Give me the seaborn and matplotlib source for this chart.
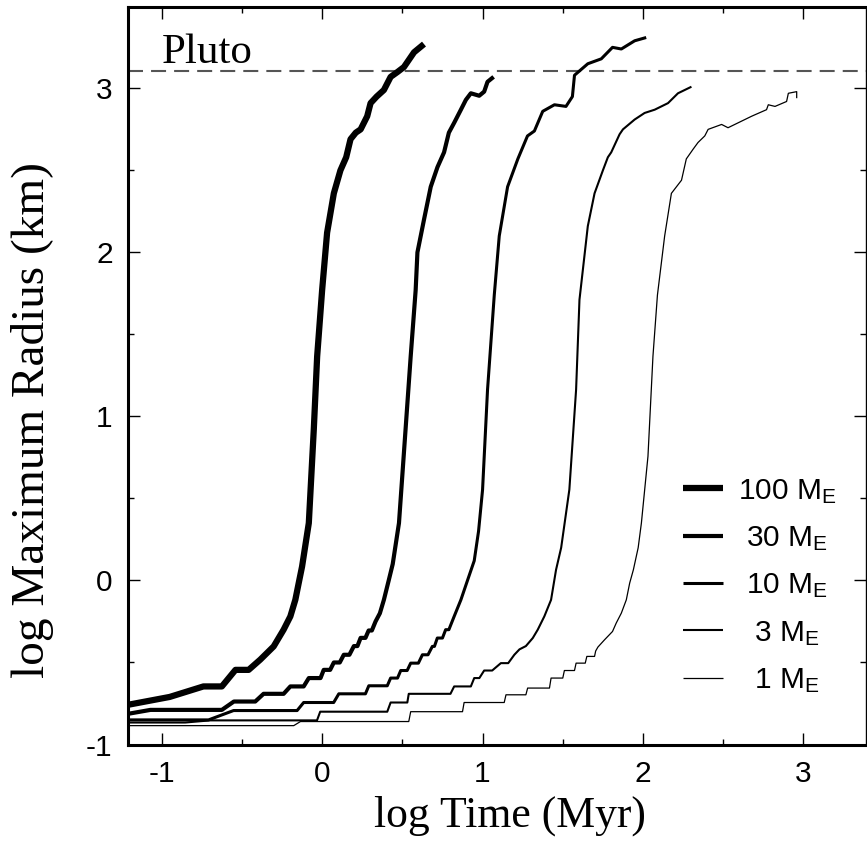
import matplotlib
matplotlib.use("Agg")
import matplotlib.pyplot as plt
import numpy as np
import pandas as pd
import seaborn as sns
from matplotlib.ticker import MultipleLocator

# ---------------- data ----------------
masses = [100, 30, 10, 3, 1]

t100 = [-1.21, -0.95, -0.74, -0.625, -0.54, -0.458, -0.386, -0.302, -0.24, -0.198,
        -0.167, -0.146, -0.125, -0.083, -0.052, -0.031, 0.0, 0.031, 0.073, 0.114,
        0.15, 0.177, 0.21, 0.24, 0.281, 0.302, 0.34, 0.385, 0.427, 0.47, 0.51, 0.573, 0.635]
r100 = [-0.758, -0.71, -0.646, -0.646, -0.545, -0.545, -0.483, -0.402, -0.30, -0.219,
        -0.118, -0.016, 0.085, 0.35, 0.92, 1.366, 1.77, 2.12, 2.36, 2.50,
        2.58, 2.69, 2.73, 2.75, 2.83, 2.91, 2.95, 2.99, 3.07, 3.10, 3.13, 3.22, 3.27]

t30 = [-1.21, -1.07, -0.625, -0.55, -0.417, -0.365, -0.24, -0.198, -0.115, -0.083,
       -0.01, 0.01, 0.05, 0.073, 0.11, 0.135, 0.17, 0.198, 0.22, 0.24,
       0.27, 0.29, 0.31, 0.333, 0.36, 0.385, 0.415, 0.44, 0.479, 0.52,
       0.552, 0.583, 0.594, 0.635, 0.677, 0.719, 0.76, 0.79, 0.823, 0.865,
       0.896, 0.927, 0.979, 1.01, 1.031, 1.069]
r30 = [-0.813, -0.789, -0.789, -0.738, -0.738, -0.691, -0.691, -0.646, -0.646, -0.595,
       -0.595, -0.545, -0.545, -0.50, -0.50, -0.453, -0.453, -0.40, -0.40, -0.35,
       -0.35, -0.305, -0.305, -0.25, -0.20, -0.118, 0.0, 0.1, 0.35, 0.92,
       1.366, 1.77, 2.0, 2.2, 2.40, 2.52, 2.61, 2.73, 2.79, 2.87,
       2.93, 2.97, 2.955, 2.98, 3.04, 3.07]

t10 = [-1.21, -0.708, -0.552, -0.156, -0.115, 0.072, 0.104, 0.27, 0.291, 0.406,
       0.427, 0.47, 0.49, 0.53, 0.552, 0.60, 0.625, 0.66, 0.687, 0.70,
       0.718, 0.75, 0.77, 0.79, 0.823, 0.865, 0.906, 0.948, 0.975, 1.0,
       1.031, 1.073, 1.104, 1.156, 1.22, 1.28, 1.323, 1.375, 1.448, 1.52,
       1.56, 1.573, 1.656, 1.74, 1.81, 1.865, 1.948, 2.02]
r10 = [-0.85, -0.85, -0.793, -0.793, -0.744, -0.744, -0.691, -0.691, -0.642, -0.642,
       -0.595, -0.595, -0.549, -0.549, -0.504, -0.504, -0.453, -0.453, -0.402, -0.402,
       -0.351, -0.351, -0.30, -0.30, -0.219, -0.118, 0.0, 0.12, 0.3, 0.553,
       1.163, 1.74, 2.10, 2.40, 2.57, 2.71, 2.74, 2.86, 2.90, 2.89,
       2.95, 3.08, 3.15, 3.18, 3.25, 3.24, 3.29, 3.31]

t3 = [-1.21, -0.854, -0.698, -0.032, -0.012, 0.406, 0.427, 0.531, 0.54, 0.80,
      0.823, 0.927, 0.948, 0.98, 1.01, 1.06, 1.114, 1.16, 1.198, 1.23,
      1.27, 1.313, 1.344, 1.385, 1.427, 1.458, 1.49, 1.541, 1.583, 1.604,
      1.656, 1.698, 1.75, 1.781, 1.802, 1.854, 1.875, 1.948, 2.01, 2.073,
      2.156, 2.218, 2.302]
r3 = [-0.866, -0.866, -0.853, -0.853, -0.80, -0.80, -0.744, -0.744, -0.691, -0.691,
      -0.646, -0.646, -0.595, -0.595, -0.549, -0.549, -0.504, -0.504, -0.453, -0.42,
      -0.40, -0.351, -0.30, -0.219, -0.118, 0.065, 0.2, 0.554, 1.163, 1.711,
      2.16, 2.36, 2.50, 2.58, 2.61, 2.72, 2.75, 2.81, 2.85, 2.87,
      2.91, 2.97, 3.01]

t1 = [-1.21, -0.177, -0.135, 0.54, 0.552, 0.875, 0.885, 1.135, 1.146, 1.27,
      1.281, 1.417, 1.427, 1.50, 1.51, 1.573, 1.583, 1.64, 1.65, 1.698,
      1.705, 1.719, 1.76, 1.81, 1.833, 1.865, 1.896, 1.917, 1.94, 1.97,
      1.99, 2.031, 2.062, 2.09, 2.135, 2.177, 2.24, 2.27, 2.313, 2.343,
      2.385, 2.406, 2.49, 2.53, 2.677, 2.70, 2.77, 2.781, 2.823, 2.895,
      2.906, 2.958, 2.958]
r1 = [-0.885, -0.885, -0.86, -0.86, -0.80, -0.80, -0.744, -0.744, -0.697, -0.697,
      -0.656, -0.656, -0.595, -0.595, -0.549, -0.549, -0.504, -0.504, -0.463, -0.463,
      -0.43, -0.406, -0.362, -0.311, -0.26, -0.199, -0.118, -0.016, 0.065, 0.2,
      0.35, 0.757, 1.366, 1.74, 2.10, 2.36, 2.44, 2.57, 2.63, 2.67,
      2.71, 2.75, 2.78, 2.76, 2.83, 2.84, 2.87, 2.90, 2.89, 2.92,
      2.97, 2.98, 2.94]

pluto_logr = 3.105
x_ticks = [-1, 0, 1, 2, 3]
y_ticks = [-1, 0, 1, 2, 3]

# ---------------- style ----------------
sns.set_theme(style="ticks")
plt.rcParams["font.family"] = ["Liberation Sans", "DejaVu Sans"]
plt.rcParams["mathtext.fontset"] = "custom"
plt.rcParams["mathtext.rm"] = "Liberation Sans"
plt.rcParams["mathtext.it"] = "Liberation Sans:italic"
plt.rcParams["lines.scale_dashes"] = False
plt.rcParams["axes.unicode_minus"] = False
for key in ["text.color", "axes.labelcolor", "xtick.color", "ytick.color",
            "xtick.labelcolor", "ytick.labelcolor", "axes.edgecolor"]:
    plt.rcParams[key] = "black"

fig = plt.figure(figsize=(8.67, 8.56), dpi=100)
L, R, T, B = 128, 866, 7, 744.5
ax = fig.add_axes([L / 867, (856 - B) / 856, (R - L) / 867, (B - T) / 856])

series = {100: (t100, r100), 30: (t30, r30), 10: (t10, r10), 3: (t3, r3), 1: (t1, r1)}
widths = {100: 4.5, 30: 3.0, 10: 2.2, 3: 1.5, 1: 0.9}

for m in masses:
    t, r = series[m]
    df = pd.DataFrame({"t": t, "r": r})
    sns.lineplot(data=df, x="t", y="r", ax=ax, color="black", linewidth=widths[m],
                 sort=False, estimator=None, label=f"{m:>3d}" + r" M$_\mathrm{E}$",
                 solid_joinstyle="round", solid_capstyle="butt")

ax.axhline(pluto_logr, color="#555555", lw=1.5, dashes=(10.8, 5.8), zorder=1)
ax.text(-1.0, 3.155, "Pluto", family="Liberation Serif", fontsize=31,
        ha="left", va="baseline", color="black")

ax.set_xlim(-1.21, 3.39)
ax.set_ylim(-1.0, 3.496)
ax.set_xticks(x_ticks)
ax.set_yticks(y_ticks)
ax.xaxis.set_minor_locator(MultipleLocator(0.5))
ax.yaxis.set_minor_locator(MultipleLocator(0.5))
ax.tick_params(which="both", direction="in", top=True, right=True, color="black",
               labelcolor="black")
ax.tick_params(which="major", length=8.6, width=1.0, labelsize=21.5, pad=11)
ax.tick_params(which="minor", length=4.3, width=1.0)
for s in ax.spines.values():
    s.set_linewidth(2.2)
    s.set_color("black")
ax.spines["right"].set_linewidth(1.0)

ax.set_xlabel("log Time (Myr)", family="Liberation Serif", fontsize=31.5, color="black")
ax.set_ylabel("log Maximum Radius (km)", family="Liberation Serif", fontsize=34,
              color="black")
ax.xaxis.label.set_va("center")
ax.yaxis.label.set_va("center")
ax.xaxis.set_label_coords(0.518, -0.096)
ax.yaxis.set_label_coords(-0.130, 0.44)

handles, labels = ax.get_legend_handles_labels()
leg = ax.legend(handles, labels, loc="upper left", bbox_to_anchor=(0.752, 0.363),
                frameon=False, fontsize=21.5, handlelength=1.34, handletextpad=0.5,
                labelspacing=0.62, borderpad=0, borderaxespad=0)
for txt in leg.get_texts():
    txt.set_color("black")

fig.savefig("out.png", dpi=100)
